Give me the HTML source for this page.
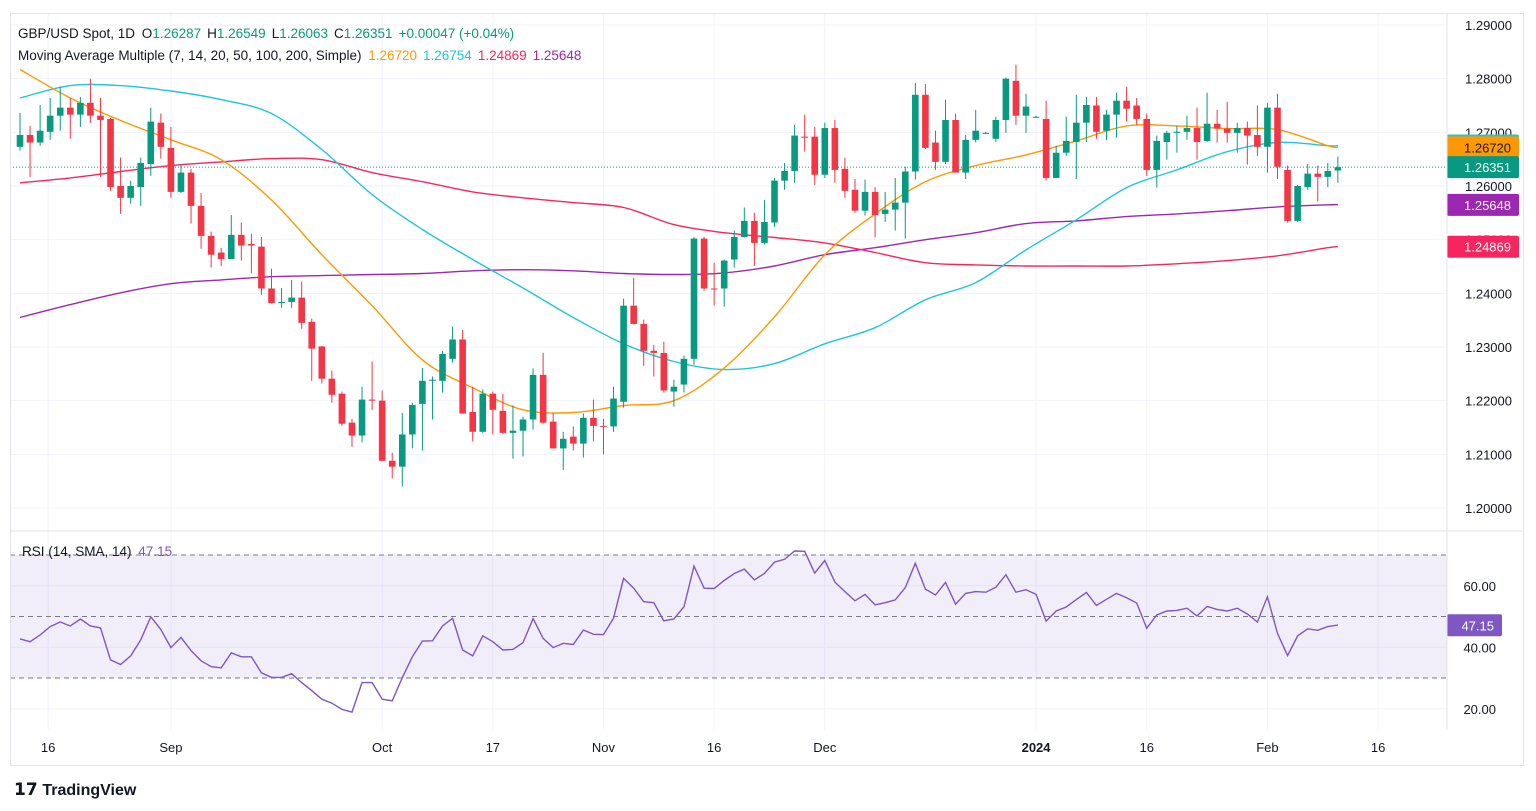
<!DOCTYPE html>
<html><head><meta charset="utf-8"><style>
html,body{margin:0;padding:0;background:#fff;width:1536px;height:811px;overflow:hidden}
svg{display:block;font-family:"Liberation Sans",sans-serif}
</style></head><body>
<svg id="chart" width="1536" height="811" viewBox="0 0 1536 811" xmlns="http://www.w3.org/2000/svg">
<rect x="0" y="0" width="1536" height="811" fill="#fff"/>
<g id="grid"></g>
<rect x="10" y="555" width="1437" height="123" fill="#7e57c2" fill-opacity="0.1"/>
<g id="mas"></g>
<g id="candles"></g>
<g id="rsi"></g>
<g id="axes"></g>
<line x1="10" y1="531" x2="1523" y2="531" stroke="#e0e3eb" stroke-width="1"/>
<rect x="10.5" y="13.5" width="1513" height="752" fill="none" stroke="#e0e3eb"/>
<line x1="1447" y1="13" x2="1447" y2="730" stroke="#e0e3eb"/>
<text x="18" y="38" font-size="13.5" fill="#131722">GBP/USD Spot, 1D <tspan dx="3">O</tspan><tspan fill="#089981">1.26287</tspan><tspan dx="6">H</tspan><tspan fill="#089981">1.26549</tspan><tspan dx="6">L</tspan><tspan fill="#089981">1.26063</tspan><tspan dx="6">C</tspan><tspan fill="#089981">1.26351</tspan><tspan dx="6" fill="#089981">+0.00047 (+0.04%)</tspan></text>
<text x="18" y="60" font-size="13.5" fill="#131722">Moving Average Multiple (7, 14, 20, 50, 100, 200, Simple) <tspan dx="3" fill="#ff9800">1.26720</tspan><tspan dx="6" fill="#22c3dc">1.26754</tspan><tspan dx="6" fill="#f7255f">1.24869</tspan><tspan dx="6" fill="#9c27b0">1.25648</tspan></text>
<text x="22" y="556" font-size="13.5" fill="#131722">RSI (14, SMA, 14) <tspan dx="3" fill="#7e57c2">47.15</tspan></text>
<text x="14" y="795" font-size="17" font-weight="bold" fill="#131722">𝟭𝟳 <tspan font-weight="bold" font-size="16">TradingView</tspan></text>
</svg>
<script>
const opens=[1.2673,1.2695,1.2681,1.2701,1.2731,1.2746,1.2733,1.2755,1.2731,1.2725,1.2600,1.2578,1.2598,1.2641,1.2718,1.2671,1.2589,1.2625,1.2563,1.2507,1.2476,1.2464,1.2509,1.2492,1.2487,1.2409,1.2382,1.2384,1.2392,1.2347,1.2301,1.2241,1.2213,1.2159,1.2135,1.2202,1.2200,1.2088,1.2077,1.2137,1.2194,1.2237,1.2237,1.2278,1.2314,1.2179,1.2142,1.2213,1.2181,1.2140,1.2144,1.2165,1.2248,1.2161,1.2111,1.2133,1.2120,1.2168,1.2153,1.2152,1.2198,1.2377,1.2343,1.2293,1.2289,1.2217,1.2230,1.2278,1.2502,1.2409,1.2409,1.2463,1.2505,1.2535,1.2494,1.2532,1.2610,1.2628,1.2692,1.2692,1.2621,1.2708,1.2632,1.2593,1.2554,1.2589,1.2548,1.2556,1.2569,1.2627,1.2770,1.2681,1.2645,1.2723,1.2625,1.2686,1.2699,1.2688,1.2723,1.2796,1.2731,1.2729,1.2725,1.2615,1.2662,1.2682,1.2718,1.2750,1.2703,1.2733,1.2759,1.2750,1.2725,1.2630,1.2682,1.2699,1.2701,1.2708,1.2684,1.2716,1.2707,1.2699,1.2708,1.2695,1.2673,1.2746,1.2630,1.2535,1.2598,1.2623,1.2617,1.2629];
const highs=[1.2736,1.2712,1.2751,1.2764,1.2785,1.2764,1.2766,1.2800,1.2764,1.2727,1.2653,1.2610,1.2653,1.2746,1.2735,1.2710,1.2641,1.2632,1.2587,1.2515,1.2485,1.2546,1.2532,1.2511,1.2505,1.2446,1.2410,1.2425,1.2422,1.2353,1.2302,1.2256,1.2217,1.2166,1.2226,1.2273,1.2219,1.2103,1.2177,1.2196,1.2261,1.2245,1.2293,1.2338,1.2332,1.2226,1.2221,1.2217,1.2213,1.2191,1.2170,1.2260,1.2289,1.2177,1.2142,1.2152,1.2176,1.2202,1.2166,1.2226,1.2390,1.2429,1.2351,1.2304,1.2310,1.2239,1.2284,1.2505,1.2505,1.2457,1.2463,1.2517,1.2560,1.2550,1.2574,1.2615,1.2643,1.2714,1.2733,1.2710,1.2718,1.2723,1.2653,1.2613,1.2612,1.2598,1.2589,1.2615,1.2636,1.2792,1.2790,1.2703,1.2761,1.2735,1.2695,1.2742,1.2701,1.2729,1.2802,1.2826,1.2772,1.2731,1.2759,1.2675,1.2729,1.2770,1.2766,1.2766,1.2742,1.2774,1.2785,1.2764,1.2735,1.2694,1.2703,1.2712,1.2731,1.2746,1.2774,1.2742,1.2757,1.2718,1.2720,1.2750,1.2755,1.2772,1.2638,1.2602,1.2641,1.2638,1.2643,1.2655];
const lows=[1.2666,1.2617,1.2675,1.2686,1.2703,1.2688,1.2710,1.2718,1.2617,1.2591,1.2548,1.2567,1.2563,1.2619,1.2651,1.2578,1.2587,1.2530,1.2483,1.2448,1.2451,1.2464,1.2461,1.2437,1.2397,1.2381,1.2373,1.2373,1.2334,1.2237,1.2232,1.2196,1.2153,1.2114,1.2122,1.2183,1.2088,1.2055,1.2040,1.2111,1.2107,1.2165,1.2215,1.2271,1.2176,1.2124,1.2140,1.2137,1.2138,1.2092,1.2096,1.2146,1.2157,1.2111,1.2071,1.2107,1.2094,1.2124,1.2100,1.2142,1.2187,1.2342,1.2265,1.2245,1.2215,1.2189,1.2215,1.2267,1.2405,1.2377,1.2375,1.2448,1.2504,1.2451,1.2491,1.2524,1.2593,1.2606,1.2664,1.2602,1.2615,1.2606,1.2578,1.2550,1.2545,1.2504,1.2533,1.2517,1.2502,1.2612,1.2669,1.2630,1.2641,1.2625,1.2613,1.2681,1.2697,1.2682,1.2699,1.2714,1.2699,1.2727,1.2610,1.2615,1.2656,1.2613,1.2682,1.2688,1.2686,1.2690,1.2720,1.2714,1.2619,1.2597,1.2649,1.2662,1.2686,1.2649,1.2682,1.2681,1.2681,1.2662,1.2640,1.2656,1.2625,1.2613,1.2532,1.2533,1.2593,1.2571,1.2598,1.2606];
const closes=[1.2695,1.2681,1.2703,1.2731,1.2746,1.2733,1.2755,1.2731,1.2723,1.2598,1.2578,1.2600,1.2643,1.2720,1.2673,1.2589,1.2625,1.2563,1.2507,1.2472,1.2464,1.2509,1.2489,1.2489,1.2409,1.2382,1.2384,1.2392,1.2345,1.2297,1.2241,1.2211,1.2157,1.2135,1.2202,1.2200,1.2088,1.2077,1.2137,1.2192,1.2237,1.2239,1.2287,1.2314,1.2176,1.2142,1.2213,1.2183,1.2140,1.2144,1.2165,1.2248,1.2159,1.2111,1.2129,1.2120,1.2168,1.2153,1.2152,1.2204,1.2377,1.2343,1.2293,1.2289,1.2219,1.2226,1.2278,1.2502,1.2409,1.2408,1.2461,1.2505,1.2535,1.2494,1.2533,1.2610,1.2628,1.2694,1.2690,1.2621,1.2708,1.2630,1.2591,1.2554,1.2589,1.2546,1.2556,1.2569,1.2627,1.2770,1.2671,1.2645,1.2723,1.2625,1.2686,1.2703,1.2699,1.2723,1.2800,1.2731,1.2748,1.2729,1.2615,1.2662,1.2684,1.2718,1.2751,1.2701,1.2733,1.2759,1.2744,1.2725,1.2630,1.2684,1.2699,1.2701,1.2708,1.2682,1.2716,1.2707,1.2699,1.2708,1.2694,1.2673,1.2746,1.2636,1.2535,1.2600,1.2623,1.2617,1.2628,1.2635];
const maIndex=[0,5,10,15,20,25,30,35,40,45,50,55,60,65,70,75,80,85,90,95,100,105,110,115,120,125,130,131];
const ma20=[1.2817,1.2764,1.2722,1.2686,1.2649,1.2574,1.2472,1.2377,1.2276,1.2224,1.2183,1.2178,1.2191,1.2200,1.2261,1.2356,1.2472,1.2548,1.2608,1.2638,1.2658,1.2684,1.2712,1.2712,1.2707,1.2705,1.2675,1.2672];
const ma50=[1.2764,1.2787,1.2787,1.2777,1.2761,1.2735,1.2668,1.2584,1.2519,1.2463,1.2410,1.2355,1.2306,1.2273,1.2258,1.2269,1.2306,1.2336,1.2388,1.2420,1.2481,1.2537,1.2597,1.2630,1.2664,1.2681,1.2675,1.2675];
const ma200=[1.2606,1.2615,1.2627,1.2638,1.2645,1.2651,1.2649,1.2625,1.2608,1.2589,1.2578,1.2569,1.2560,1.2528,1.2513,1.2504,1.2494,1.2476,1.2457,1.2453,1.2451,1.2451,1.2451,1.2455,1.2461,1.2470,1.2485,1.2487];
const ma100=[1.2355,1.2379,1.2401,1.2418,1.2425,1.2431,1.2433,1.2435,1.2437,1.2442,1.2444,1.2442,1.2437,1.2435,1.2438,1.2451,1.2472,1.2485,1.2500,1.2513,1.2530,1.2535,1.2543,1.2548,1.2554,1.2561,1.2565,1.2565];
const rsiValues=[42.7,41.8,44.0,46.7,48.2,46.9,49.2,46.9,46.3,35.9,34.4,37.2,42.4,49.9,45.8,39.9,43.2,38.9,35.6,33.7,33.3,38.2,36.9,36.9,31.7,30.2,30.2,31.4,28.5,25.9,23.1,21.8,19.8,18.9,28.5,28.5,23.1,22.6,30.1,36.9,42.0,42.1,46.9,49.4,39.1,37.2,43.7,41.8,39.1,39.3,41.5,49.3,42.9,39.9,41.3,40.9,45.6,44.2,44.1,49.4,62.4,59.2,54.8,54.5,48.6,49.2,53.2,66.4,59.2,59.1,61.7,64.0,65.4,61.9,64.0,67.7,68.6,71.3,71.2,64.1,68.2,61.2,58.1,55.1,57.2,53.8,54.5,55.4,59.4,67.3,58.9,57.0,61.1,54.0,57.5,58.1,57.9,59.5,63.6,57.9,58.7,57.2,48.5,51.8,53.1,55.5,57.8,53.6,55.6,57.5,56.1,54.4,46.2,50.5,51.8,52.0,52.7,50.2,53.3,52.3,51.8,52.7,50.8,48.2,56.4,44.5,37.3,43.7,46.0,45.5,46.7,47.2];
const priceTicks=[1.29,1.28,1.27,1.26,1.25,1.24,1.23,1.22,1.21,1.20];
const rsiTicks=[60,40,20];
const dateLabels=["16","Sep","Oct","17","Nov","16","Dec","2024","16","Feb","16"];
const dateIndex=[2.8,15,36,47,58,69,80,101,112,124,135];
const lastClose=1.26351;
const rsiLast=47.15;

const NS="http://www.w3.org/2000/svg";
function el(tag,attrs,parent){const e=document.createElementNS(NS,tag);for(const k in attrs)e.setAttribute(k,attrs[k]);parent.appendChild(e);return e;}
function xScale(i){return 20+i*10.06;}
function yScale(p){return 25+(1.29-p)/0.09*483;}
function rScale(v){return 555+(70-v)*3.075;}
function smoothPath(P){
  let d='M'+P[0][0].toFixed(1)+','+P[0][1].toFixed(1);
  for(let i=0;i<P.length-1;i++){
    const p0=P[i-1]||P[i],p1=P[i],p2=P[i+1],p3=P[i+2]||P[i+1];
    const c1x=p1[0]+(p2[0]-p0[0])/6,c1y=p1[1]+(p2[1]-p0[1])/6;
    const c2x=p2[0]-(p3[0]-p1[0])/6,c2y=p2[1]-(p3[1]-p1[1])/6;
    d+=' C'+c1x.toFixed(1)+','+c1y.toFixed(1)+' '+c2x.toFixed(1)+','+c2y.toFixed(1)+' '+p2[0].toFixed(1)+','+p2[1].toFixed(1);
  }
  return d;
}

const grid=document.getElementById('grid');
const axes=document.getElementById('axes');
priceTicks.forEach(p=>{
  const y=yScale(p);
  const l=el('line',{x1:10,x2:1447,y1:y,y2:y,stroke:'#f0f3fa'},grid);
  
  
  const t=el('text',{x:1512,y:y+5,'font-size':13,'text-anchor':'end',fill:'#131722'},axes);
  t.textContent=p.toFixed(5);
  
  
});
rsiTicks.forEach(v=>{
  const y=rScale(v);
  const l=el('line',{x1:10,x2:1447,y1:y,y2:y,stroke:'#f0f3fa'},grid);
  
  
  const t=el('text',{x:1496,y:y+5,'font-size':13,'text-anchor':'end',fill:'#131722'},axes);
  t.textContent=v.toFixed(2);
  
  
});
dateLabels.forEach((d,k)=>{
  const x=xScale(dateIndex[k]);
  const l=el('line',{x1:x,x2:x,y1:14,y2:730,stroke:'#f0f3fa'},grid);
  
  
  const t=el('text',{x:x,y:752,'font-size':13,'text-anchor':'middle',fill:'#131722','font-weight':d==='2024'?'bold':'normal'},axes);
  t.textContent=d;
  
  
});

const mas=document.getElementById('mas');
[[ma100,'#9c27b0','ma-100'],[ma200,'#f7255f','ma-200'],[ma50,'#22c3dc','ma-50'],[ma20,'#ff9800','ma-20']].forEach(([arr,c,n])=>{
  const P=arr.map((v,k)=>[xScale(maIndex[k]),yScale(v)]);
  const pl=el('path',{d:smoothPath(P),fill:'none',stroke:c,'stroke-width':1.4,'stroke-linejoin':'round'},mas);
  
  
});
const lp=el('line',{x1:10,x2:1447,y1:yScale(lastClose),y2:yScale(lastClose),stroke:'#089981','stroke-dasharray':'1 2'},mas);



const cg=document.getElementById('candles');
closes.forEach((c,i)=>{
  const o=opens[i],x=xScale(i);
  const col=c>=o?'#089981':'#f23645';
  const w=el('line',{x1:x,x2:x,y1:yScale(highs[i]),y2:yScale(lows[i]),stroke:col,'stroke-width':1},cg);
  
  
  const yt=yScale(Math.max(o,c)),yb=yScale(Math.min(o,c));
  const b=el('rect',{x:x-3.3,y:yt,width:6.6,height:Math.max(1,yb-yt),fill:col},cg);
  
  
});

const rg=document.getElementById('rsi');
[70,50,30].forEach(v=>{
  const l=el('line',{x1:10,x2:1447,y1:rScale(v),y2:rScale(v),stroke:'#787b86','stroke-dasharray':'5 4'},rg);
  
  
});
const rpts=rsiValues.map((v,i)=>xScale(i).toFixed(1)+','+rScale(v).toFixed(1)).join(' ');
const rl=el('polyline',{points:rpts,fill:'none',stroke:'#7e57c2','stroke-width':1.4},rg);



function pill(val,col,txtCol,name,w,isRsi){
  const y=isRsi?rScale(val):yScale(val);
  const g=el('g',{},axes);
  
  
  el('rect',{x:1447,y:y-11,width:w,height:22,rx:2,fill:col},g);
  const t=el('text',{x:1447+w-8,y:y+5,'font-size':13,'text-anchor':'end',fill:txtCol},g);
  t.textContent=isRsi?val.toFixed(2):val.toFixed(5);
}
pill(1.26754,'#22c3dc','#131722','ma50-price-label',72);
pill(1.26720,'#ff9800','#131722','ma20-price-label',72);
pill(lastClose,'#089981','#fff','last-price-label',72);
pill(1.25648,'#9c27b0','#fff','ma100-price-label',72);
pill(1.24869,'#f7255f','#fff','ma200-price-label',72);
pill(rsiLast,'#7e57c2','#fff','rsi-value-label',55,true);
</script>
</body></html>
